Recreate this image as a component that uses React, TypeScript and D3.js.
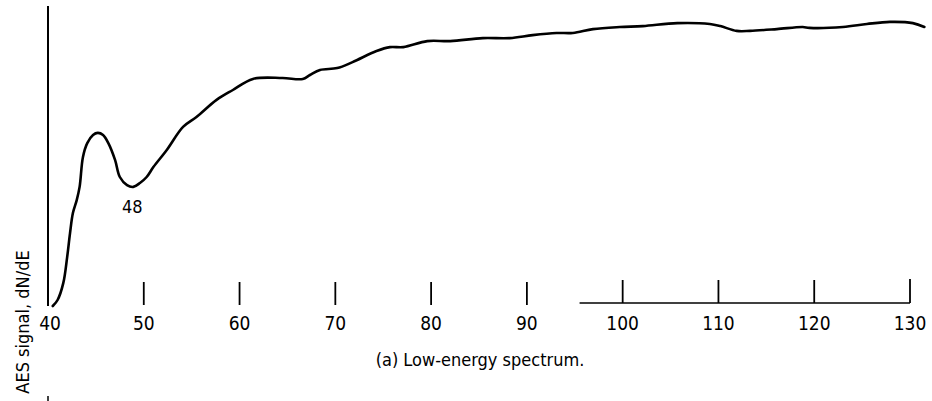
import React from "react";
import * as d3 from "d3";

const energy = [40.5, 41.0, 41.6, 42.0, 42.3, 42.6, 43.0, 43.3, 43.65, 44.1, 44.7, 45.2, 45.75, 46.3, 47.0, 47.5, 48.25, 48.9, 49.6, 50.3, 51.0, 52.4, 54.1, 55.5, 57.6, 59.3, 61.4, 64.5, 66.6, 67.35, 68.4, 70.2, 71.8, 74.3, 75.7, 77.1, 79.6, 82.0, 85.4, 88.2, 90.6, 93.1, 94.8, 96.9, 99.7, 102.1, 105.7, 109.1, 110.2, 111.9, 113.3, 116.1, 118.8, 119.5, 123.0, 125.5, 127.9, 130.3, 131.5];
const signal = [0, 2, 7.7, 16.3, 24.3, 31, 35.3, 39.7, 49.7, 54.3, 57, 57.7, 57, 54.3, 48.7, 43, 40.3, 39.7, 41, 43, 46.3, 52, 59.7, 63, 68.7, 72, 75.7, 76, 75.7, 77, 78.7, 79.3, 81.3, 85, 86.3, 86.3, 88.3, 88.3, 89.3, 89.3, 90.3, 91, 91, 92.3, 93, 93.3, 94.3, 94, 93.3, 91.7, 91.7, 92.3, 93, 92.7, 93, 94, 94.7, 94.3, 93];
const tickValues = [40, 50, 60, 70, 80, 90, 100, 110, 120, 130];
const tickLabels = ["40", "50", "60", "70", "80", "90", "100", "110", "120", "130"];
const peakLabel = "48";
const peakEnergy = 48.9;
const baselineStart = 95.5;
const yTitle = "AES signal, dN/dE";
const caption = "(a) Low-energy spectrum.";

export default function App() {
  const W = 932, H = 401;
  const x = d3.scaleLinear().domain([40, 130]).range([48, 910]);
  const y = d3.scaleLinear().domain([0, 100]).range([306, 6]);
  const pts = energy.map((e, i) => [e, signal[i]] as [number, number]);
  const line = d3
    .line<[number, number]>()
    .x((d) => x(d[0]))
    .y((d) => y(d[1]))
    .curve(d3.curveCatmullRom.alpha(0.5));
  const font = "'DejaVu Sans Condensed', 'DejaVu Sans', sans-serif";
  return (
    <svg
      width={W}
      height={H}
      viewBox={`0 0 ${W} ${H}`}
      style={{ position: "absolute", left: 0, top: 0, background: "#fff" }}
    >
      <rect width={W} height={H} fill="#fff" />
      {/* y axis */}
      <line x1={x(40)} x2={x(40)} y1={y(100)} y2={y(0)} stroke="#000" strokeWidth={2} />
      <line x1={x(40)} x2={x(40)} y1={396} y2={401} stroke="#000" strokeWidth={1.5} />
      {/* baseline */}
      <line x1={x(baselineStart)} x2={x(130)} y1={303} y2={303} stroke="#000" strokeWidth={1.6} />
      {/* ticks */}
      {tickValues.slice(1).map((t) => (
        <line
          key={t}
          x1={x(t)}
          x2={x(t)}
          y1={t === 130 ? 279 : t >= 100 ? 280 : 282}
          y2={t >= 100 ? 303 : 305}
          stroke="#000"
          strokeWidth={1.8}
        />
      ))}
      {tickValues.map((t, i) => (
        <text
          key={t}
          x={x(t) + (i === 0 ? 2 : 0)}
          y={330}
          textAnchor="middle"
          fontFamily={font}
          fontSize={19}
          fill="#000"
        >
          {tickLabels[i]}
        </text>
      ))}
      {/* curve */}
      <path d={line(pts) || ""} fill="none" stroke="#000" strokeWidth={2.6} strokeLinejoin="round" strokeLinecap="round" />
      <text x={x(peakEnergy) - 1} y={213} textAnchor="middle" fontFamily={font} fontSize={18} fill="#000">
        {peakLabel}
      </text>
      <text
        transform={`translate(29, 322) rotate(-90)`}
        textAnchor="middle"
        fontFamily={font}
        fontSize={18}
        fill="#000"
      >
        {yTitle}
      </text>
      <text x={480} y={366} textAnchor="middle" fontFamily={font} fontSize={18} fill="#000">
        {caption}
      </text>
    </svg>
  );
}
